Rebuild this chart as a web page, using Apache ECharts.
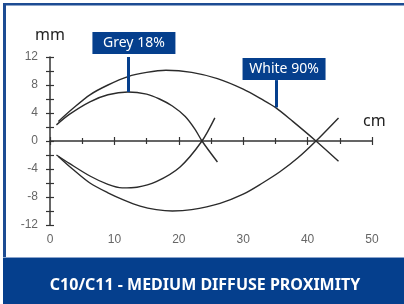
<!DOCTYPE html>
<html>
<head>
<meta charset="utf-8">
<title>C10/C11 - Medium Diffuse Proximity</title>
<script src="https://cdn.jsdelivr.net/npm/echarts@6/dist/echarts.min.js"></script>
<style>
    html, body { margin: 0; padding: 0; background: #fff; }
    #chart { width: 404px; height: 304px; }
</style>
</head>
<body>
<div id="chart"></div>
<script>
    // tick labels
    var xTickLabels = [0, 10, 20, 30, 40, 50];
    var yTickLabels = [-12, -8, -4, 0, 4, 8, 12];

    // Grey 18% detection lobe (cm, mm)
    var greyUpperX = [1, 3, 6.2, 9, 12.1, 15, 17, 19, 21, 22.5, 23.6, 26];
    var greyUpperY = [2.3, 3.8, 5.6, 6.6, 7.0, 6.7, 6.0, 5.0, 3.5, 1.7, 0, -3.0];
    var greyLowerX = [1, 3, 6.2, 9, 11.2, 13.5, 16.5, 20.2, 23.6, 25.6];
    var greyLowerY = [-2.0, -3.2, -5.0, -6.2, -6.7, -6.6, -5.8, -3.7, 0, 3.3];

    // White 90% detection lobe
    var whiteUpperX = [1.3, 3.5, 6.2, 9, 12.1, 15, 18, 22, 26, 30, 33, 35, 37.7, 41.3, 44.8];
    var whiteUpperY = [2.8, 4.6, 6.6, 8.0, 9.2, 9.8, 10.1, 9.8, 8.9, 7.4, 5.9, 4.8, 2.8, 0, -2.9];
    var whiteLowerX = [1.3, 3.5, 6.2, 9, 11.4, 14, 16.5, 19, 22, 26.4, 30, 33, 35.7, 38.5, 41.3, 44.8];
    var whiteLowerY = [-2.2, -4.0, -6.0, -7.4, -8.4, -9.3, -9.8, -10.0, -9.8, -8.9, -7.6, -6.0, -4.4, -2.4, 0, 3.3];

    // callout tags: where the leader touches the curve, where it ends, label shift
    var greyTag = { text: 'Grey 18%', x: 12.1, y: 7.0, top: 12, dx: 6, dy: -3 };
    var whiteTag = { text: 'White 90%', x: 35.1, y: 4.8, top: 8.7, dx: 8, dy: 0 };

    var blue = '#053f8d';
    var axisColor = '#333';

    function pairs(xs, ys) {
        var out = [];
        for (var i = 0; i < xs.length; i++) out.push([xs[i], ys[i]]);
        return out;
    }

    function tagLine(tag) {
        return {
            silent: true,
            symbol: ['none', 'none'],
            lineStyle: { color: blue, width: 3, type: 'solid' },
            label: {
                show: true,
                position: 'end',
                distance: 0,
                offset: [tag.dx, tag.dy],
                formatter: tag.text,
                color: '#fff',
                backgroundColor: blue,
                fontFamily: 'Noto Sans',
                fontSize: 14,
                lineHeight: 16,
                width: 83,
                align: 'center',
                padding: [3, 0, 3, 0]
            },
            data: [[{ coord: [tag.x, tag.y] }, { coord: [tag.x, tag.top] }]]
        };
    }

    function curve(name, xs, ys, tag) {
        var s = {
            name: name,
            type: 'line',
            data: pairs(xs, ys),
            smooth: 0.3,
            showSymbol: false,
            silent: true,
            clip: false,
            lineStyle: { color: '#2b2b2b', width: 1.4 }
        };
        if (tag) s.markLine = tagLine(tag);
        return s;
    }

    var tickStyle = { color: axisColor, width: 1.2 };

    var chart = echarts.init(document.getElementById('chart'));
    chart.setOption({
        animation: false,
        grid: { left: 50, right: 32, top: 57, bottom: 79, outerBoundsMode: 'none' },
        xAxis: [{
            type: 'value',
            min: xTickLabels[0],
            max: xTickLabels[xTickLabels.length - 1],
            interval: 10,
            axisLine: { onZero: true, lineStyle: { color: axisColor, width: 1.5 } },
            axisTick: { show: true, length: 4, lineStyle: tickStyle },
            minorTick: { show: true, splitNumber: 2, length: 3, lineStyle: tickStyle },
            splitLine: { show: false },
            axisLabel: { color: '#666', fontFamily: 'Liberation Sans', fontSize: 12, margin: 9, showMinLabel: true },
            name: 'cm',
            nameLocation: 'end',
            nameGap: -9,
            nameTextStyle: { color: '#222', fontFamily: 'Noto Sans', fontSize: 16, align: 'left', verticalAlign: 'bottom', padding: [0, 0, 12, 0] }
        }, {
            type: 'value',
            position: 'bottom',
            min: xTickLabels[0],
            max: xTickLabels[xTickLabels.length - 1],
            interval: 10,
            axisLine: { show: false, onZero: true },
            axisTick: { show: true, inside: true, length: 4, lineStyle: tickStyle },
            minorTick: { show: true, splitNumber: 2, length: 3, lineStyle: tickStyle },
            splitLine: { show: false },
            axisLabel: { show: false }
        }],
        yAxis: [{
            type: 'value',
            position: 'left',
            min: yTickLabels[0],
            max: yTickLabels[yTickLabels.length - 1],
            interval: 4,
            axisLine: { show: true, onZero: false, lineStyle: { color: axisColor, width: 1.5 } },
            axisTick: { show: true, length: 4, lineStyle: tickStyle },
            minorTick: { show: true, splitNumber: 2, length: 4, lineStyle: tickStyle },
            splitLine: { show: false },
            axisLabel: { color: '#666', fontFamily: 'Liberation Sans', fontSize: 12, margin: 12 },
            name: 'mm',
            nameLocation: 'end',
            nameGap: 14,
            nameTextStyle: { color: '#222', fontFamily: 'Noto Sans', fontSize: 16 }
        }, {
            type: 'value',
            position: 'left',
            min: yTickLabels[0],
            max: yTickLabels[yTickLabels.length - 1],
            interval: 4,
            axisLine: { show: false, onZero: false },
            axisTick: { show: true, inside: true, length: 4, lineStyle: tickStyle },
            minorTick: { show: true, splitNumber: 2, length: 4, lineStyle: tickStyle },
            splitLine: { show: false },
            axisLabel: { show: false }
        }],
        series: [
            curve('Grey 18% upper', greyUpperX, greyUpperY, greyTag),
            curve('Grey 18% lower', greyLowerX, greyLowerY),
            curve('White 90% upper', whiteUpperX, whiteUpperY, whiteTag),
            curve('White 90% lower', whiteLowerX, whiteLowerY)
        ],
        graphic: [
            { type: 'rect', shape: { x: 3, y: 3, width: 3, height: 256 }, style: { fill: '#1d4c93' }, silent: true },
            { type: 'rect', shape: { x: 3, y: 3, width: 401, height: 2.5 }, style: { fill: '#1d4c93' }, silent: true },
            { type: 'rect', shape: { x: 3, y: 257, width: 401, height: 1 }, style: { fill: '#8aa4cc' }, silent: true },
            { type: 'rect', shape: { x: 3, y: 258, width: 401, height: 46 }, style: { fill: blue }, silent: true },
            {
                type: 'text', x: 205, y: 285, silent: true,
                style: {
                    text: 'C10/C11 - MEDIUM DIFFUSE PROXIMITY',
                    fill: '#fff',
                    fontFamily: 'Noto Sans',
                    fontWeight: 'bold',
                    fontSize: 16,
                    align: 'center',
                    verticalAlign: 'middle'
                }
            }
        ]
    });
</script>
</body>
</html>
